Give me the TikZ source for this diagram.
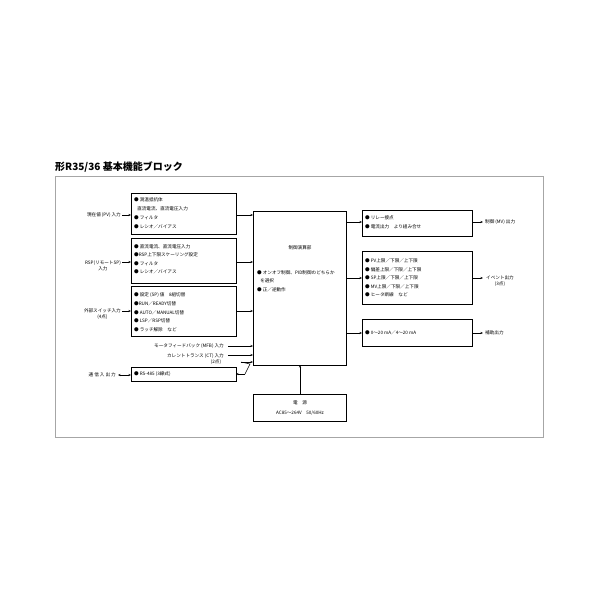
\documentclass[tikz,border=0pt]{standalone}
\usepackage{fontspec}
\setmainfont{Noto Sans CJK JP}
\usetikzlibrary{arrows.meta}
\begin{document}
\begin{tikzpicture}[x=1pt,y=-1pt,
  bx/.style={draw,line width=0.6pt},
  tx/.style={anchor=west,inner sep=0pt,font=\fontsize{4.6}{5.5}\selectfont},
  lb/.style={inner sep=0pt,font=\fontsize{4.6}{5.5}\selectfont,align=center},
  ar/.style={-{Stealth[length=2.5pt,width=2pt]},line width=0.5pt}]
\useasboundingbox[fill=white] (0,0) rectangle (600,600);
\draw[gray!70,line width=1pt] (55,176) rectangle (543,437);
\node[anchor=west,inner sep=0pt,font=\fontsize{10}{12}\selectfont\bfseries] (title) at (55,167) {形R35/36 基本機能ブロック};
% boxes
\draw[bx] (131,193) rectangle (236,234); \coordinate (b1) at (236,215);
\draw[bx] (131,238) rectangle (236,283); \coordinate (b2) at (236,262);
\draw[bx] (131,286) rectangle (236,336); \coordinate (b3) at (236,311);
\draw[bx] (131,367) rectangle (236,381);
\draw[bx] (253,211) rectangle (346,365);
\draw[bx] (253,394) rectangle (346,421);
\draw[bx] (362,210) rectangle (472,236);
\draw[bx] (362,251) rectangle (472,304);
\draw[bx] (362,319) rectangle (472,346);
% box texts
\foreach \y/\t in {200/● 測温抵抗体, 208.5/\ \ \ 直流電流、直流電圧入力, 217.5/● フィルタ, 226.5/● レシオ／バイアス} \node[tx] at (134,\y) {\t};
\foreach \y/\t in {246.5/● 直流電流、直流電圧入力, 255/●RSP上下限スケーリング設定, 263.5/● フィルタ, 272/● レシオ／バイアス} \node[tx] at (134,\y) {\t};
\foreach \y/\t in {295/● 設定 (SP) 値\quad 8組切替, 303.5/●RUN／READY切替, 312.5/● AUTO／MANUAL切替, 321/● LSP／RSP切替, 330/● ラッチ解除\quad など} \node[tx] at (134,\y) {\t};
\node[tx] (rs) at (134,374) {● RS-485\ (3線式)};
\node[tx] at (365,218) {● リレー接点};
\node[tx] at (365,227) {● 電流出力\quad より組み合せ};
\foreach \y/\t in {261/● PV上限／下限／上下限, 269.5/● 偏差上限／下限／上下限, 278/● SP上限／下限／上下限, 286.5/● MV上限／下限／上下限, 295/● ヒータ断線\quad など} \node[tx] at (365,\y) {\t};
\node[tx] at (365,333) {● 0〜20 mA／4〜20 mA};
\node[lb] (cpu) at (300,248) {制御演算部};
\node[tx] at (257,273) {● オンオフ制御、PID制御のどちらか};
\node[tx] at (257,281) {\ \ \ を選択};
\node[tx] at (257,290) {● 正／逆動作};
\node[lb] (pw) at (300,403) {電\quad 源};
\node[lb] at (300,413) {AC85〜264V\quad 50/60Hz};
% left labels
\node[lb,anchor=east] (l1) at (121,215) {現在値 (PV) 入力};
\node[lb,anchor=east] (l2) at (121,266) {RSP(リモートSP)\\入力};
\node[lb,anchor=east] (l3) at (121,314) {外部スイッチ入力\\(4点)};
\node[lb,anchor=east] (l4) at (224,346) {モータフィードバック (MFB) 入力};
\node[lb,anchor=east] (l5) at (224,356) {カレントトランス (CT) 入力};
\node[lb] at (216,362) {(2点)};
\node[lb,anchor=east] (l6) at (116,375) {通 信 入 出 力};
\draw[ar] (l1.east)++(1,0) -- (131,215);
\draw[ar] (122,262) -- (131,262);
\draw[ar] (122,311) -- (131,311);
\draw[{Stealth[length=2.5pt,width=2pt]}-{Stealth[length=2.5pt,width=2pt]},line width=0.5pt] (118,375) -- (131,375);
% into CPU
\draw[ar] (b1) -- (253,215);
\draw[ar] (b2) -- (253,262);
\draw[ar] (b3) -- (253,311);
\draw[ar] (228,346) -- (253,346);
\draw[ar] (228,355) -- (253,355);
\draw[ar] (241,362) -- (253,362);
\draw[line width=0.5pt] (241,362) -- (250,364) -- (245,374);
\draw[ar] (245,374) -- (236,374);
% out
\draw[ar] (346,222) -- (362,222);
\draw[ar] (346,278) -- (362,278);
\draw[ar] (346,333) -- (362,333);
\draw[ar] (300,394) -- (300,365);
\draw[ar] (472,222) -- (483,222);
\draw[ar] (472,278) -- (483,278);
\draw[ar] (472,333) -- (483,333);
\node[tx] at (485,222) {制御 (MV) 出力};
\node[lb] at (500,281) {イベント出力\\(3点)};
\node[tx] at (485,333) {補助出力};
\end{tikzpicture}
\end{document}
